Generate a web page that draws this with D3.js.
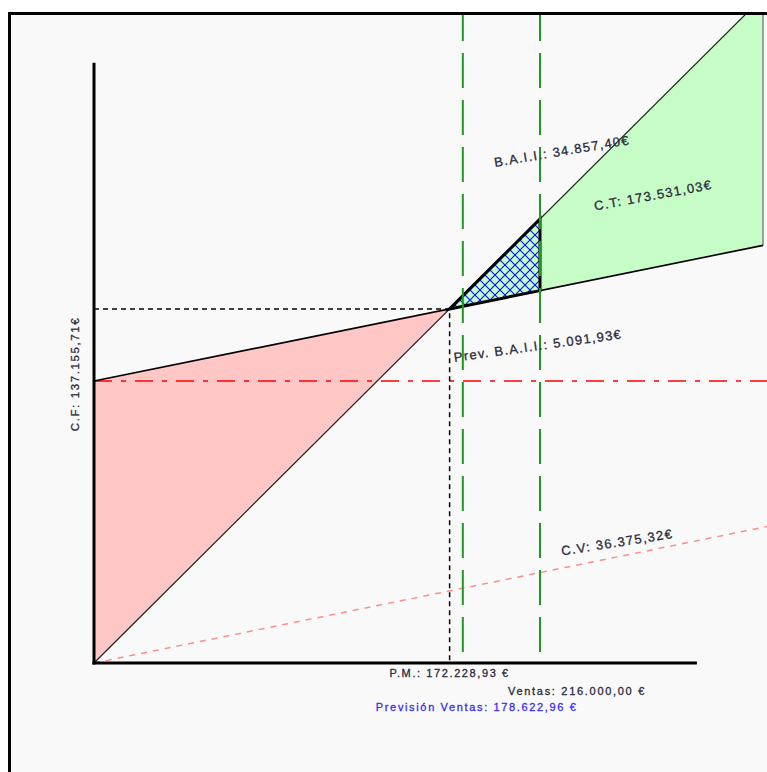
<!DOCTYPE html>
<html>
<head>
<meta charset="utf-8">
<script src="https://cdn.jsdelivr.net/npm/d3@7/dist/d3.min.js"></script>
<style>
  html, body { margin: 0; padding: 0; background: #ffffff; }
  svg { display: block; }
  text { font-family: "Liberation Sans", Arial, sans-serif; }
</style>
</head>
<body>
<div id="chart"></div>
<script>
// ---- data ----
const salesNames  = ["P.M.", "Previsión Ventas", "Ventas"];
const salesValues = [172228.93, 178622.96, 216000.00];
const costNames   = ["C.F", "C.V", "C.T"];
const costValues  = [137155.71, 36375.32, 173531.03];   // C.V and C.T at forecast sales
const profitNames  = ["B.A.I.I.", "Prev. B.A.I.I."];
const profitValues = [34857.40, 5091.93];
const axisMax  = 292000;   // end of drawn axes (€)
const chartMax = 324000;   // right end of the plotted areas (€)
const lineMax  = 335000;   // reference lines run to the edge

const W = 767, H = 772;
const fixedCost = costValues[0];
const forecast = salesValues[1];
const sales = salesValues[2];
const breakEven = salesValues[0];
const vRate = costValues[1] / forecast;
const totalCost = s => fixedCost + vRate * s;

const loc = d3.formatLocale({decimal: ",", thousands: ".", grouping: [3], currency: ["", "€"]});
const fmt = loc.format(",.2f");

const x = d3.scaleLinear().domain([0, chartMax]).range([94, 763]);
const y = d3.scaleLinear().domain([0, 322500]).range([663, 0]);

const svg = d3.select("#chart").append("svg").attr("width", W).attr("height", H);

const defs = svg.append("defs");
defs.append("clipPath").attr("id", "plotClip")
  .append("rect").attr("x", 11).attr("y", 15).attr("width", W - 11).attr("height", H - 15);
const pat = defs.append("pattern").attr("id", "hatch")
  .attr("patternUnits", "userSpaceOnUse").attr("width", 10).attr("height", 10);
pat.append("rect").attr("width", 10).attr("height", 10).attr("fill", "#c6fcc6");
pat.append("path").attr("d", "M0,0L10,10M10,0L0,10M-1,9L1,11M9,-1L11,1")
  .attr("stroke", "#0010ff").attr("stroke-width", 1.1);

// frame
svg.append("rect").attr("x", 9.5).attr("y", 13.5).attr("width", W + 20).attr("height", H + 20)
  .attr("fill", "#f9f9f9").attr("stroke", "#000").attr("stroke-width", 3);

const g = svg.append("g").attr("clip-path", "url(#plotClip)");
const line = d3.line().x(d => x(d[0])).y(d => y(d[1]));
const closed = d => line(d) + "Z";

// loss area (pink)
g.append("path")
  .datum([[0, 0], [0, fixedCost], [breakEven, totalCost(breakEven)]])
  .attr("d", closed).attr("fill", "#ffc6c6").attr("stroke", "none");

// profit area (green)
g.append("path")
  .datum([[breakEven, breakEven], [chartMax, chartMax], [chartMax, totalCost(chartMax)], [breakEven, totalCost(breakEven)]])
  .attr("d", closed).attr("fill", "#c6fcc6").attr("stroke", "none");
g.append("path")
  .datum([[chartMax, chartMax], [chartMax, totalCost(chartMax)]])
  .attr("d", line).attr("fill", "none").attr("stroke", "#666").attr("stroke-width", 1.2);

// variable cost line
g.append("path").datum([[0, 0], [lineMax, vRate * lineMax]])
  .attr("d", line).attr("fill", "none").attr("stroke", "#ff8c8c")
  .attr("stroke-width", 1.5).attr("stroke-dasharray", "6,6");

// fixed cost reference (red dash-dot)
g.append("path").datum([[0, fixedCost], [lineMax, fixedCost]])
  .attr("d", line).attr("fill", "none").attr("stroke", "#ff0000")
  .attr("stroke-width", 1.5).attr("stroke-dasharray", "18,9,5,9");

// break-even dashed guides
g.append("path").datum([[0, totalCost(breakEven)], [breakEven, totalCost(breakEven)], [breakEven, 0]])
  .attr("d", line).attr("fill", "none").attr("stroke", "#000")
  .attr("stroke-width", 1.5).attr("stroke-dasharray", "5,4");

// sales line
g.append("path").datum([[0, 0], [lineMax, lineMax]])
  .attr("d", line).attr("fill", "none").attr("stroke", "#222").attr("stroke-width", 1.2);

// total cost line
g.append("path").datum([[0, fixedCost], [chartMax, totalCost(chartMax)]])
  .attr("d", line).attr("fill", "none").attr("stroke", "#000").attr("stroke-width", 1.6);

// hatched profit triangle at actual sales
g.append("path")
  .datum([[breakEven, breakEven], [sales, sales], [sales, totalCost(sales)]])
  .attr("d", closed).attr("fill", "url(#hatch)")
  .attr("stroke", "#000").attr("stroke-width", 3).attr("stroke-linejoin", "miter");

// green vertical dashed lines (forecast and sales)
g.selectAll(".vgreen").data([forecast, sales]).join("line")
  .attr("x1", d => x(d)).attr("x2", d => x(d))
  .attr("y1", 13).attr("y2", y(0))
  .attr("stroke", "#1f9a1f").attr("stroke-width", 2)
  .attr("stroke-dasharray", "28,12,35,12,35,12,35,12,35,12,35,12,35,12,35,12,35,12,35,12,35,12,35,12,35,12,35,12,35,12");

// axes
svg.append("line").attr("x1", x(0)).attr("x2", x(0)).attr("y1", y(axisMax)).attr("y2", y(0) + 1.5)
  .attr("stroke", "#000").attr("stroke-width", 3);
svg.append("line").attr("x1", x(0) - 1.5).attr("x2", x(axisMax)).attr("y1", y(0)).attr("y2", y(0))
  .attr("stroke", "#000").attr("stroke-width", 3);

// rotated labels
const rot = [
  {t: profitNames[0] + ": " + fmt(profitValues[0]) + "€", px: x(sales) - 45, py: y(sales) - 52, a: -9.5},
  {t: costNames[2] + ": " + fmt(costValues[2]) + "€", px: x(sales) + 55, py: y(totalCost(sales)) - 80, a: -10.5},
  {t: profitNames[1] + ": " + fmt(profitValues[1]) + "€", px: x(breakEven) + 5, py: y(totalCost(breakEven)) + 53, a: -8},
  {t: costNames[1] + ": " + fmt(costValues[1]) + "€", px: x(sales) + 22, py: y(vRate * sales) - 17, a: -9}
];
svg.selectAll(".rl").data(rot).join("text")
  .attr("transform", d => `translate(${d.px},${d.py}) rotate(${d.a})`)
  .attr("font-size", 13).attr("letter-spacing", 1.3).attr("fill", "#2a2a3a")
  .attr("stroke", "#2a2a3a").attr("stroke-width", 0.3)
  .text(d => d.t);

svg.append("text")
  .attr("transform", `translate(${x(0) - 15},${y(fixedCost) - 7}) rotate(-90)`)
  .attr("text-anchor", "middle").attr("font-size", 11.5).attr("letter-spacing", 1.6)
  .attr("fill", "#2a2a3a").attr("stroke", "#2a2a3a").attr("stroke-width", 0.3)
  .text(costNames[0] + ": " + fmt(costValues[0]) + "€");

// bottom labels
svg.append("text").attr("x", x(breakEven)).attr("y", y(0) + 14)
  .attr("text-anchor", "middle").attr("font-size", 11).attr("letter-spacing", 1.6)
  .attr("fill", "#2a2a3a").attr("stroke", "#2a2a3a").attr("stroke-width", 0.3)
  .text(salesNames[0] + ": " + fmt(breakEven) + " €");
svg.append("text").attr("x", x(sales) - 32).attr("y", y(0) + 32)
  .attr("font-size", 11).attr("letter-spacing", 1.7)
  .attr("fill", "#2a2a3a").attr("stroke", "#2a2a3a").attr("stroke-width", 0.3)
  .text(salesNames[2] + ": " + fmt(sales) + " €");
svg.append("text").attr("x", x(forecast) - 87).attr("y", y(0) + 48)
  .attr("font-size", 11).attr("letter-spacing", 1.65)
  .attr("fill", "#3b2cf0").attr("stroke", "#3b2cf0").attr("stroke-width", 0.3)
  .text(salesNames[1] + ": " + fmt(forecast) + " €");
</script>
</body>
</html>
